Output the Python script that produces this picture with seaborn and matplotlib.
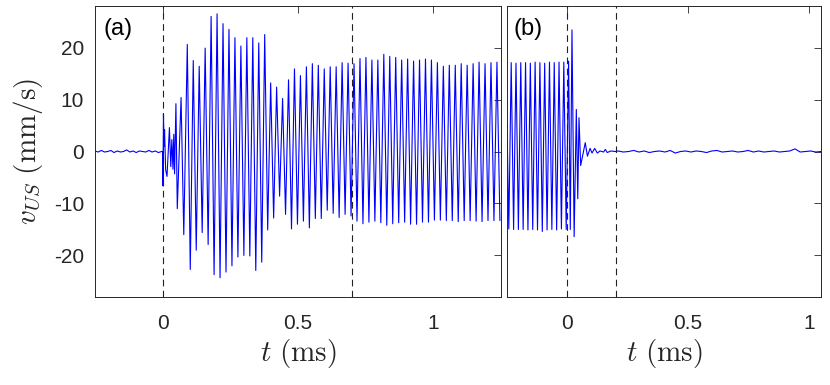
import numpy as np
import pandas as pd
import matplotlib
matplotlib.use('Agg')
import matplotlib.pyplot as plt
import seaborn as sns

# ---- data (mm/s, ms) ----
# panel (a): quiet baseline before the burst
base_a = [0.1, -0.1, 0.2, -0.1, 0.0, 0.2, -0.2, 0.1, -0.1, 0.0, 0.3, -0.1,
          0.1, -0.2, 0.1, 0.0, -0.1, 0.2, -0.1, 0.1, -0.2, 0.0]

# panel (a): irregular onset just after t = 0
onset_t_a = [0.0, 0.001, 0.003, 0.005, 0.007, 0.011, 0.016, 0.020, 0.025, 0.030,
             0.034, 0.038, 0.041, 0.044, 0.049, 0.054, 0.068, 0.078]
onset_v_a = [0.0, -6.6, 7.2, 1.0, 4.2, -3.5, -4.8, -0.8, 4.6, -2.9,
             2.3, -3.4, 3.3, -4.3, 9.2, -11.0, 10.4, -16.0]

# panel (a): peak / trough of every cycle from t = 0.091 ms
first_peak_a = 0.091
period_a = 0.0220
peaks_a = [20.6, 17.5, 16.4, 19.9, 26.0,
           26.5, 24.6, 23.5, 21.9, 20.3, 21.9, 21.9, 20.9, 22.5, 13.2,
           12.4, 10.2, 13.8, 15.9, 14.6, 16.3, 16.9, 16.6, 15.9,
           16.3, 16.3, 17.1, 17.0, 16.9, 17.9, 18.1, 17.6, 17.6,
           18.7, 18.3, 18.1, 17.6, 17.8, 17.4, 17.6, 17.8, 17.6, 17.1,
           16.4, 16.6, 16.6, 16.9, 16.6, 16.9, 17.2, 16.9, 17.1, 17.2]
troughs_a = [-22.7, -19.0, -15.6, -17.9, -23.7,
             -24.3, -23.2, -22.0, -20.3, -20.0, -20.1, -22.9, -21.3, -15.1, -12.8,
             -8.6, -12.1, -14.9, -14.0, -13.4, -14.7, -12.9, -12.9, -11.3,
             -11.9, -12.7, -12.1, -12.4, -13.4, -13.9, -13.6, -13.4, -13.7,
             -14.2, -13.9, -13.7, -13.6, -14.0, -14.0, -13.6, -13.6, -13.2, -13.2,
             -13.3, -13.3, -13.5, -13.3, -13.3, -13.4, -13.5, -13.3, -13.3, -13.3]

# panel (b): steady cycles before the drive stops
start_v_b = 5.5
first_trough_b = -14.9
first_peak_b = -0.2326
period_b = 0.0198
peaks_b = [17.1, 17.0, 17.1, 17.1, 17.0, 17.2, 17.1, 17.0, 17.2, 17.1, 17.2, 17.2]
troughs_b = [-15.0, -15.0, -15.0, -15.1, -15.0, -15.1, -15.4, -15.1, -15.0, -15.1, -14.9, -15.0]

# panel (b): ring-down after t = 0
ring_t_b = [0.005, 0.012, 0.019, 0.028, 0.037, 0.043, 0.048, 0.055, 0.074, 0.083,
            0.094, 0.102, 0.113, 0.124, 0.135, 0.150, 0.157, 0.165, 0.180, 0.198]
ring_v_b = [17.4, -15.0, 23.4, -16.4, 8.1, -9.1, 6.5, -2.7, 1.7, -0.9,
            0.6, -0.3, 0.6, -0.3, 0.1, -0.1, 0.4, -0.2, 0.1, 0.0]

# panel (b): noise floor after the ring-down
base_b = [0.1, -0.1, 0.0, 0.2, -0.1, 0.1, -0.2, 0.0, 0.1, -0.1, 0.2, -0.3,
          0.0, 0.1, -0.1, 0.1, 0.0, -0.2, 0.1, 0.2, -0.1, 0.0, 0.1, -0.1,
          0.0, 0.2, -0.1, 0.1, -0.1, 0.0, 0.1, -0.1, 0.0, 0.1, 0.5, -0.1,
          0.0, 0.1, -0.1, 0.0]

markers_a = [0.0, 0.7]
markers_b = [0.0, 0.2]


# ---- build the traces ----
def zigzag(t_first, period, peaks, troughs):
    t, v = [], []
    for k, (p, q) in enumerate(zip(peaks, troughs)):
        t += [t_first + k * period, t_first + (k + 0.5) * period]
        v += [p, q]
    return t, v


ta = list(np.linspace(-0.25, -0.004, len(base_a))) + onset_t_a
va = base_a + onset_v_a
zt, zv = zigzag(first_peak_a, period_a, peaks_a, troughs_a)
ta += zt
va += zv
df_a = pd.DataFrame({'t': ta, 'v': va})

tb = [-0.25, first_peak_b - 0.5 * period_b]
vb = [start_v_b, first_trough_b]
zt, zv = zigzag(first_peak_b, period_b, peaks_b, troughs_b)
tb += zt + ring_t_b + list(np.linspace(0.21, 1.05, len(base_b)))
vb += zv + ring_v_b + base_b
df_b = pd.DataFrame({'t': tb, 'v': vb})

# ---- figure ----
sns.set_style('white')
plt.rcParams['font.family'] = ['Liberation Sans', 'DejaVu Sans']
plt.rcParams['mathtext.fontset'] = 'cm'

fig = plt.figure(figsize=(8.3, 3.85), dpi=100)
ax1 = fig.add_axes([95 / 830, 1 - 297 / 385, 406 / 830, 291 / 385])
ax2 = fig.add_axes([507 / 830, 1 - 297 / 385, 314 / 830, 291 / 385])

grey = '#262626'
for ax, df, xlim, marks, tag in [(ax1, df_a, (-0.25, 1.25), markers_a, '(a)'),
                                 (ax2, df_b, (-0.25, 1.05), markers_b, '(b)')]:
    for m in marks:
        ax.axvline(m, color='#222222', lw=0.8, ls=(0, (6, 4)), zorder=1)
    sns.lineplot(data=df, x='t', y='v', ax=ax, color='#0000ff', lw=0.8,
                 estimator=None, sort=False, zorder=2)
    ax.set_xlim(*xlim)
    ax.set_ylim(-28, 28)
    ax.set_xticks([0, 0.5, 1])
    ax.set_xticklabels(['0', '0.5', '1'])
    ax.set_yticks([-20, -10, 0, 10, 20])
    ax.tick_params(direction='in', length=5, width=0.6, top=True, right=True,
                   colors=grey, labelsize=15, pad=8)
    ax.tick_params(axis='x', pad=12)
    for s in ax.spines.values():
        s.set_color(grey)
        s.set_linewidth(0.7)
    ax.set_xlabel(r'$t\ (\mathrm{ms})$', fontsize=21, color=grey, labelpad=3)
    ax.set_ylabel('')
    ax.text(0.022, 0.96, tag, transform=ax.transAxes, fontsize=17,
            va='top', ha='left', color='black')

ax1.set_yticklabels(['-20', '-10', '0', '10', '20'])
ax2.set_yticklabels([])
ax1.set_ylabel(r'$v_{US}\ (\mathrm{mm/s})$', fontsize=21, color=grey)
ax1.yaxis.set_label_coords(-50 / 406, 0.5)

fig.savefig('out.png', dpi=100)
